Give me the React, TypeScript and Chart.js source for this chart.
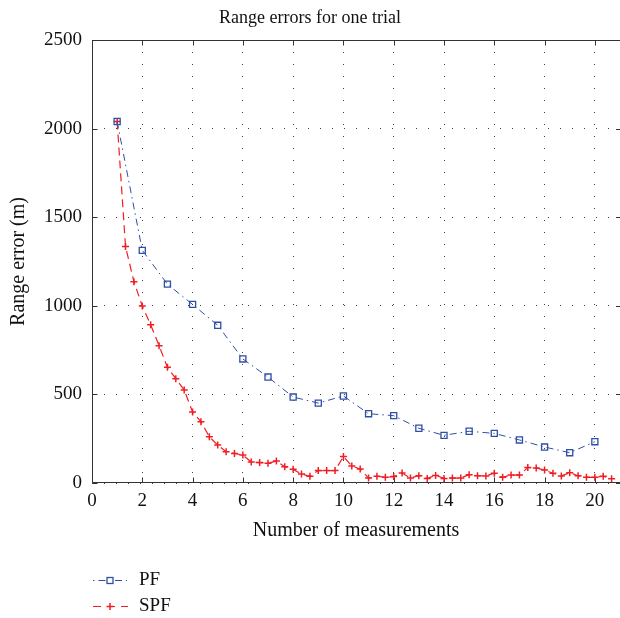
import { useEffect, useRef } from "react";
import { Chart, registerables } from "chart.js";

Chart.register(...registerables);

const FONT = "'Liberation Serif', 'Times New Roman', serif";
const PF_COLOR = "#2f4fa6";
const SPF_COLOR = "#f01e23";

const chartTitle = "Range errors for one trial";
const xTitle = "Number of measurements";
const yTitle = "Range error (m)";
const seriesNames = ["PF", "SPF"];

const pfX = [1, 2, 3, 4, 5, 6, 7, 8, 9, 10, 11, 12, 13, 14, 15, 16, 17, 18, 19, 20];
const pfY = [2040, 1313, 1122, 1008, 890, 700, 598, 485, 451, 491, 391, 380, 309, 269, 292, 280, 243, 203, 171, 233];

const spfX = [
  1, 1.333, 1.667, 2, 2.333, 2.667, 3, 3.333, 3.667, 4,
  4.333, 4.667, 5, 5.333, 5.667, 6, 6.333, 6.667, 7, 7.333,
  7.667, 8, 8.333, 8.667, 9, 9.333, 9.667, 10, 10.333, 10.667,
  11, 11.333, 11.667, 12, 12.333, 12.667, 13, 13.333, 13.667, 14,
  14.333, 14.667, 15, 15.333, 15.667, 16, 16.333, 16.667, 17, 17.333,
  17.667, 18, 18.333, 18.667, 19, 19.333, 19.667, 20, 20.333, 20.667,
];
const spfY = [
  2040, 1334, 1136, 999, 893, 775, 653, 589, 525, 401,
  346, 261, 214, 177, 167, 158, 119, 115, 111, 124,
  92, 77, 51, 38, 70, 70, 70, 149, 96, 79,
  28, 38, 32, 36, 56, 28, 41, 26, 43, 26,
  28, 28, 47, 41, 40, 55, 32, 45, 45, 87,
  85, 73, 55, 40, 58, 41, 32, 32, 38, 24,
];

const xMin = 0;
const xMax = 21;
const xStep = 2;
const yMin = 0;
const yMax = 2500;
const yStep = 500;

const framePlugin = {
  id: "frame",
  beforeDatasetsDraw(chart: any) {
    const { ctx, chartArea: a, scales } = chart;
    ctx.save();
    ctx.strokeStyle = "#333";
    ctx.lineWidth = 1;
    ctx.setLineDash([]);
    const L = Math.round(a.left) + 0.5;
    const R = Math.round(a.right);
    const T = Math.round(a.top) + 0.5;
    const B = Math.round(a.bottom) - 0.5;
    ctx.beginPath();
    ctx.moveTo(R, T);
    ctx.lineTo(L, T);
    ctx.lineTo(L, B);
    ctx.lineTo(R, B);
    ctx.stroke();
    const tl = 5;
    ctx.beginPath();
    scales.x.ticks.forEach((t: any) => {
      const px = Math.round(scales.x.getPixelForValue(t.value)) + 0.5;
      ctx.moveTo(px, B);
      ctx.lineTo(px, B - tl);
      ctx.moveTo(px, T);
      ctx.lineTo(px, T + tl);
    });
    scales.y.ticks.forEach((t: any) => {
      const py = Math.round(scales.y.getPixelForValue(t.value)) + 0.5;
      ctx.moveTo(L, py);
      ctx.lineTo(L + tl, py);
      ctx.moveTo(R, py);
      ctx.lineTo(R - tl + 1, py);
    });
    ctx.stroke();
    ctx.restore();
  },
};

const legendPlugin = {
  id: "customLegend",
  afterDraw(chart: any) {
    const { ctx } = chart;
    const x0 = 93;
    const x1 = 127;
    const mx = 110;
    const textX = 139;
    const rows = [580, 606];
    ctx.save();
    // PF row
    let y = rows[0] + 0.5;
    ctx.strokeStyle = PF_COLOR;
    ctx.lineWidth = 1;
    ctx.setLineDash([1.5, 4, 7, 4]);
    ctx.beginPath();
    ctx.moveTo(x0, y);
    ctx.lineTo(x1, y);
    ctx.stroke();
    ctx.setLineDash([]);
    ctx.fillStyle = "#fff";
    ctx.fillRect(mx - 3, y - 3, 6, 6);
    ctx.lineWidth = 1.3;
    ctx.strokeRect(mx - 3, y - 3, 6, 6);
    // SPF row
    y = rows[1] + 0.5;
    ctx.strokeStyle = SPF_COLOR;
    ctx.lineWidth = 1.2;
    ctx.setLineDash([8, 6]);
    ctx.beginPath();
    ctx.moveTo(x0, y);
    ctx.lineTo(x1 + 1, y);
    ctx.stroke();
    ctx.setLineDash([]);
    ctx.lineWidth = 1.5;
    ctx.beginPath();
    ctx.moveTo(mx - 3.5, y);
    ctx.lineTo(mx + 3.5, y);
    ctx.moveTo(mx, y - 3.5);
    ctx.lineTo(mx, y + 3.5);
    ctx.stroke();
    ctx.fillStyle = "#111";
    ctx.font = `19px ${FONT}`;
    ctx.textBaseline = "middle";
    ctx.textAlign = "left";
    ctx.fillText(seriesNames[0], textX, rows[0]);
    ctx.fillText(seriesNames[1], textX, rows[1]);
    ctx.restore();
  },
};

export default function App() {
  const ref = useRef<HTMLCanvasElement | null>(null);

  useEffect(() => {
    if (!ref.current) return;
    const chart = new Chart(ref.current, {
      type: "line",
      data: {
        datasets: [
          {
            label: seriesNames[0],
            data: pfX.map((x, i) => ({ x, y: pfY[i] })),
            borderColor: PF_COLOR,
            backgroundColor: "rgba(255,255,255,0)",
            borderWidth: 1,
            borderDash: [7, 4, 1.5, 4],
            pointStyle: "rect",
            pointRadius: 4.3,
            pointBorderWidth: 1.3,
            pointBorderColor: PF_COLOR,
            pointBackgroundColor: "rgba(255,255,255,0)",
            tension: 0,
            order: 1,
          },
          {
            label: seriesNames[1],
            data: spfX.map((x, i) => ({ x, y: spfY[i] })),
            borderColor: SPF_COLOR,
            backgroundColor: SPF_COLOR,
            borderWidth: 1.2,
            borderDash: [8, 5],
            pointStyle: "cross",
            pointRadius: 3.5,
            pointBorderWidth: 1.5,
            pointBorderColor: SPF_COLOR,
            tension: 0,
            order: 2,
          },
        ],
      },
      options: {
        animation: false,
        responsive: false,
        maintainAspectRatio: false,
        layout: { autoPadding: false, padding: { left: 0, right: 0, top: 0, bottom: 75 } },
        plugins: {
          legend: { display: false },
          tooltip: { enabled: false },
          title: {
            display: true,
            text: chartTitle,
            color: "#111",
            font: { family: FONT, size: 18, weight: "normal" },
            padding: { top: 7, bottom: 11.4 },
          },
        },
        scales: {
          x: {
            type: "linear",
            min: xMin,
            max: xMax,
            afterFit: (s: any) => {
              s.height = 60;
              s.paddingRight = 0;
              s.paddingLeft = 0;
            },
            ticks: {
              stepSize: xStep,
              includeBounds: false,
              padding: 7,
              color: "#111",
              font: { family: FONT, size: 19 },
              maxRotation: 0,
              callback: (v: any) => String(v),
            },
            grid: {
              color: "rgba(0,0,0,0.75)",
              lineWidth: 1,
              drawTicks: false,
            },
            border: { display: false, dash: [1, 11] },
            title: {
              display: true,
              text: xTitle,
              color: "#111",
              font: { family: FONT, size: 20 },
              padding: { top: 0, bottom: 0 },
            },
          },
          y: {
            type: "linear",
            min: yMin,
            max: yMax,
            afterFit: (s: any) => {
              s.width = 92;
            },
            ticks: {
              stepSize: yStep,
              padding: 10,
              color: "#111",
              font: { family: FONT, size: 19 },
              callback: (v: any) => String(v),
            },
            grid: {
              color: "rgba(0,0,0,0.75)",
              lineWidth: 1,
              drawTicks: false,
            },
            border: { display: false, dash: [1, 11] },
            title: {
              display: true,
              text: yTitle,
              color: "#111",
              font: { family: FONT, size: 20 },
              padding: { top: 7, bottom: 0 },
            },
          },
        },
      },
      plugins: [framePlugin, legendPlugin],
    });
    return () => chart.destroy();
  }, []);

  return (
    <canvas
      ref={ref}
      width={620}
      height={618}
      style={{ position: "absolute", left: 0, top: 0, display: "block", background: "#fff" }}
    />
  );
}
